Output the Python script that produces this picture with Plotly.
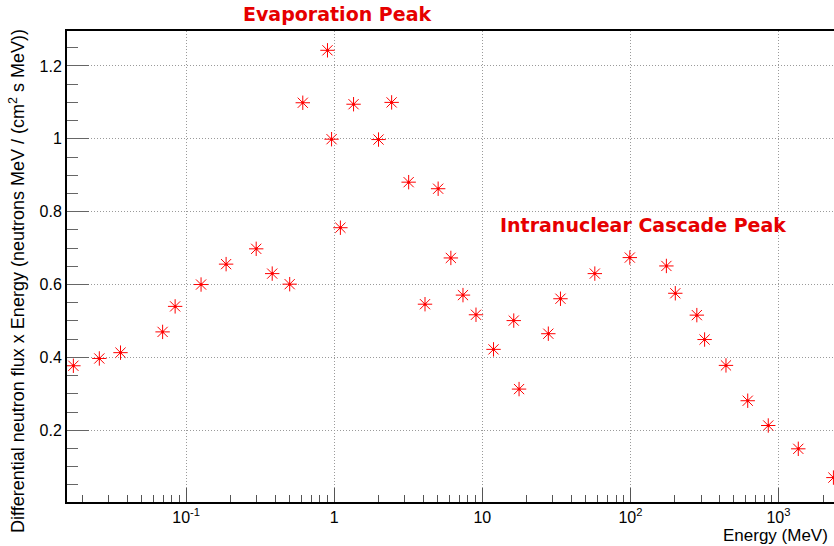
import plotly.graph_objects as go

# Neutron energy (MeV) and differential flux x energy
energy = [0.0173, 0.0259, 0.0360, 0.0693, 0.0842, 0.126, 0.186, 0.297, 0.381, 0.500,
          0.613, 0.900, 0.959, 1.10, 1.35, 1.99, 2.44, 3.18, 4.10, 5.03,
          6.13, 7.40, 9.06, 11.9, 16.3, 17.7, 27.9, 33.7, 57.5, 99.1,
          175, 201, 281, 317, 442, 620, 853, 1361, 2350]
flux = [0.377, 0.397, 0.413, 0.470, 0.540, 0.600, 0.656, 0.698, 0.630, 0.601,
        1.099, 1.243, 0.999, 0.756, 1.095, 0.998, 1.100, 0.881, 0.546, 0.863,
        0.673, 0.571, 0.517, 0.422, 0.501, 0.313, 0.465, 0.561, 0.630, 0.674,
        0.651, 0.576, 0.516, 0.449, 0.378, 0.281, 0.213, 0.149, 0.070]

x_tickvals = [0.1, 1, 10, 100, 1000]
x_ticktext = ["10<sup>-1</sup>", "1", "10", "10<sup>2</sup>", "10<sup>3</sup>"]
y_tickvals = [0.2, 0.4, 0.6, 0.8, 1.0, 1.2]
y_ticktext = ["0.2", "0.4", "0.6", "0.8", "1", "1.2"]

RED = "#ff0000"
TEXT_RED = "#e60000"
SANS = "Liberation Sans, Arial, sans-serif"
AXIS_FONT = dict(family=SANS, size=16, color="black")
GRID = dict(showgrid=True, gridcolor="#9a9a9a", griddash="1px,2px", gridwidth=1)

fig = go.Figure()
fig.add_trace(go.Scatter(
    x=energy, y=flux, mode="markers", cliponaxis=False,
    marker=dict(symbol="asterisk", size=12, color=RED, line=dict(color=RED, width=1)),
    hoverinfo="x+y", showlegend=False,
))
fig.add_trace(go.Scatter(
    x=energy, y=flux, mode="markers", cliponaxis=False,
    marker=dict(symbol="circle", size=3, color=RED, line=dict(width=0)),
    hoverinfo="skip", showlegend=False,
))

fig.update_layout(
    width=834, height=546,
    margin=dict(l=67, r=0, t=31, b=44),
    paper_bgcolor="white", plot_bgcolor="white",
    font=AXIS_FONT,
    xaxis=dict(
        type="log", range=[-1.805, 3.375],
        tickmode="array", tickvals=x_tickvals, ticktext=x_ticktext,
        ticks="inside", ticklen=14, tickwidth=1, tickcolor="#555555",
        minor=dict(tickmode="linear", dtick="D1", ticks="inside", ticklen=7,
                   tickwidth=1, tickcolor="#555555", showgrid=False),
        showline=True, linecolor="black", linewidth=2, mirror=True,
        zeroline=False, tickfont=AXIS_FONT, **GRID,
    ),
    yaxis=dict(
        range=[0.003, 1.296],
        tickmode="array", tickvals=y_tickvals, ticktext=y_ticktext,
        ticks="inside", ticklen=22, tickwidth=1, tickcolor="#666666",
        minor=dict(tickmode="linear", tick0=0, dtick=0.05, ticks="inside", ticklen=11,
                   tickwidth=1, tickcolor="#666666", showgrid=False),
        showline=True, linecolor="black", linewidth=2, mirror=False,
        zeroline=False, tickfont=AXIS_FONT, **GRID,
    ),
    annotations=[
        dict(text="Evaporation Peak", xref="paper", yref="paper",
             x=0.352, y=1.036, xanchor="center", yanchor="middle", showarrow=False,
             font=dict(family="DejaVu Sans", size=19, color=TEXT_RED, weight="bold")),
        dict(text="Intranuclear Cascade Peak", xref="paper", yref="paper",
             x=0.7516, y=0.588, xanchor="center", yanchor="middle", showarrow=False,
             font=dict(family="DejaVu Sans", size=19, color=TEXT_RED, weight="bold")),
        dict(text="Differential neutron flux x Energy (neutrons MeV / (cm<sup>2</sup> s MeV))",
             xref="paper", yref="paper", x=-0.064, y=1.0085, textangle=-90,
             xanchor="center", yanchor="top", showarrow=False,
             font=dict(family=SANS, size=18, color="black")),
        dict(text="Energy (MeV)", xref="paper", yref="paper",
             x=0.9948, y=-0.0705, xanchor="right", yanchor="middle", showarrow=False,
             font=dict(family=SANS, size=17, color="black")),
    ],
)

fig.write_html("out.html")
